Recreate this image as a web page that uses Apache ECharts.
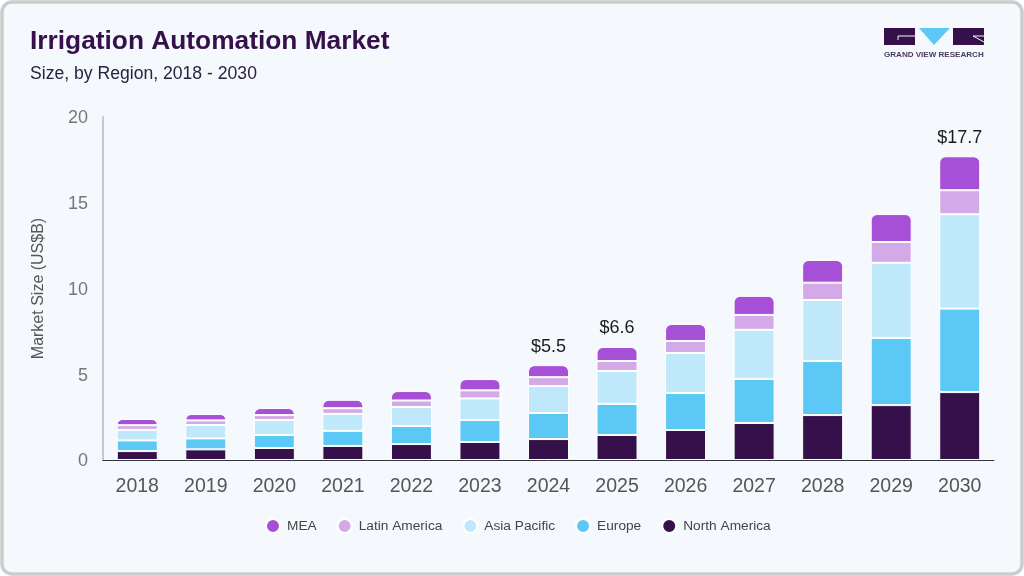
<!DOCTYPE html>
<html>
<head>
<meta charset="utf-8">
<style>
html,body{margin:0;padding:0;background:#fff}
#c{width:1024px;height:576px}
</style>
<script src="https://cdn.jsdelivr.net/npm/echarts@6/dist/echarts.min.js"></script>
</head>
<body>
<div id="c"></div>
<script>
const categories = ['2018','2019','2020','2021','2022','2023','2024','2025','2026','2027','2028','2029','2030'];
const northAmerica = [0.52,0.62,0.70,0.82,0.93,1.05,1.22,1.46,1.75,2.16,2.62,3.20,3.96];
const europe       = [0.62,0.64,0.76,0.88,1.05,1.28,1.52,1.81,2.16,2.57,3.15,3.91,4.87];
const asiaPacific  = [0.62,0.78,0.87,0.99,1.11,1.26,1.57,1.92,2.33,2.86,3.56,4.39,5.50];
const latinAmerica = [0.27,0.27,0.29,0.33,0.38,0.47,0.52,0.58,0.70,0.87,1.01,1.21,1.40];
const mea          = [0.36,0.37,0.41,0.49,0.55,0.66,0.70,0.82,0.99,1.11,1.32,1.63,1.98];
const totalLabels  = [null,null,null,null,null,null,'$5.5','$6.6',null,null,null,null,'$17.7'];
const legendOrder  = ['MEA','Latin America','Asia Pacific','Europe','North America'];
const yTicks = {min:0,max:20,interval:5};

const FONT = '"Liberation Sans", Arial, sans-serif';
const DARK = '#35104a';

function seg(name,data,color,radius){
  return {name,type:'bar',stack:'t',barWidth:41,data,
    itemStyle:{color,borderColor:'#ffffff',borderWidth:1,borderRadius:radius||0},
    emphasis:{disabled:true}};
}
const meaData = mea.map((v,i)=> totalLabels[i] ? {
  value:v,
  label:{show:true,position:'top',distance:9.5,formatter:totalLabels[i],color:'#1c1c1c',fontSize:18,fontFamily:FONT}
} : v);

const chart = echarts.init(document.getElementById('c'),null,{renderer:'canvas'});
chart.setOption({
  animation:false,
  backgroundColor:'#ffffff',
  textStyle:{fontFamily:FONT},
  title:[
    {text:'Irrigation Automation Market',left:30,top:29,padding:0,textStyle:{fontFamily:FONT,fontSize:26.3,fontWeight:'bold',color:DARK}},
    {text:'Size, by Region, 2018 - 2030',left:30,top:65,padding:0,textStyle:{fontFamily:FONT,fontSize:17.6,fontWeight:'normal',color:'#2b2140'}}
  ],
  legend:{
    data:legendOrder,left:265,top:518,padding:0,icon:'circle',itemWidth:14,itemHeight:14,itemGap:20,
    selectedMode:false,
    textStyle:{fontFamily:FONT,fontSize:13.7,color:'#444',padding:[0,0,0,2]}
  },
  grid:{left:103,right:30,top:117,bottom:116,containLabel:false},
  xAxis:{
    type:'category',data:categories,
    axisLine:{lineStyle:{color:'#33333a',width:1}},
    axisTick:{show:false},
    axisLabel:{color:'#555',fontSize:19.5,margin:17,fontFamily:FONT}
  },
  yAxis:{
    type:'value',min:yTicks.min,max:yTicks.max,interval:yTicks.interval,
    name:'Market Size (US$B)',nameLocation:'middle',nameGap:56,nameRotate:90,
    nameTextStyle:{color:'#555',fontSize:16,fontFamily:FONT},
    axisLine:{show:true,lineStyle:{color:'#c8c8c8',width:2}},
    axisTick:{show:false},
    splitLine:{show:false},
    axisLabel:{color:'#777',fontSize:18,margin:15,verticalAlign:'top',lineHeight:3,fontFamily:FONT}
  },
  series:[
    seg('North America',northAmerica,'#35104a'),
    seg('Europe',europe,'#5bc8f5'),
    seg('Asia Pacific',asiaPacific,'#bfe9fb'),
    seg('Latin America',latinAmerica,'#d3a9e8'),
    seg('MEA',meaData,'#a650d8',[6,6,0,0])
  ],
  graphic:[
    {type:'rect',z:-10,silent:true,shape:{x:2,y:2,width:1020,height:572,r:10},
      style:{fill:'#f5f9fe',stroke:'#cccccc',lineWidth:3.5}},
    {type:'rect',silent:true,shape:{x:884,y:28,width:31,height:17},style:{fill:DARK}},
    {type:'polyline',silent:true,shape:{points:[[915,36],[898,36],[898,40]]},style:{stroke:'#f5f9fe',lineWidth:1,fill:null}},
    {type:'polygon',silent:true,shape:{points:[[919,28],[950,28],[934,45]]},style:{fill:'#5bc8f5'}},
    {type:'rect',silent:true,shape:{x:953,y:28,width:31,height:17},style:{fill:DARK}},
    {type:'polyline',silent:true,shape:{points:[[984,36],[973,36],[984,42]]},style:{stroke:'#f5f9fe',lineWidth:1,fill:null}},
    {type:'text',silent:true,style:{x:884,y:51,text:'GRAND VIEW RESEARCH',fill:'#4a3a5e',font:'bold 8.05px '+FONT}}
  ]
});
</script>
</body>
</html>
